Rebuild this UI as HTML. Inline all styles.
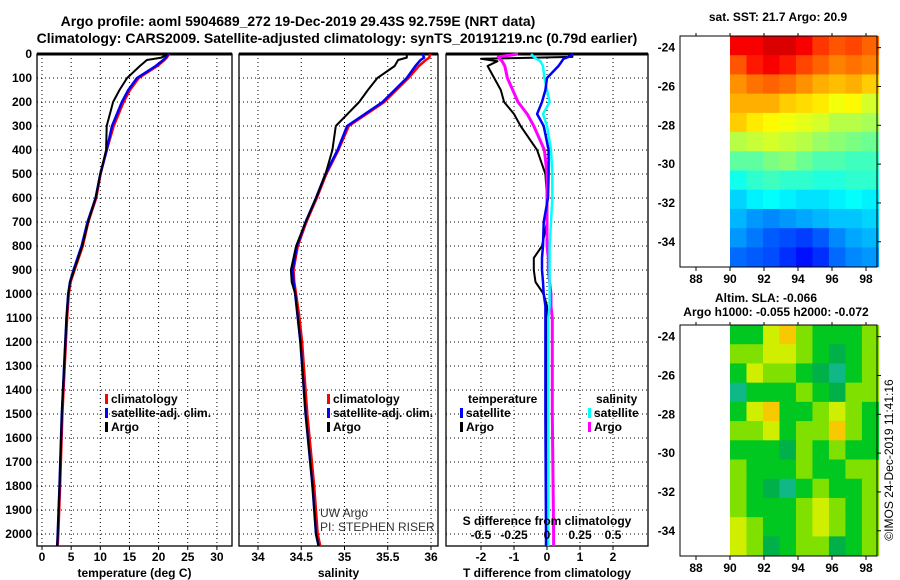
<!DOCTYPE html>
<html><head><meta charset="utf-8">
<style>
body{margin:0;background:#fff;}
svg{display:block;font-family:"Liberation Sans",Arial,sans-serif;}
.b{font-weight:bold;font-size:12px;}
.t{font-weight:bold;font-size:14px;}
</style></head>
<body>
<svg id="c" width="900" height="580" viewBox="0 0 900 580">
<text class="t" x="298" y="26" text-anchor="middle">Argo profile: aoml 5904689_272 19-Dec-2019 29.43S 92.759E (NRT data)</text>
<text class="t" x="337" y="43" text-anchor="middle">Climatology: CARS2009. Satellite-adjusted climatology: synTS_20191219.nc (0.79d earlier)</text>
<text class="b" x="778" y="21" text-anchor="middle">sat. SST: 21.7 Argo: 20.9</text>
<text class="b" x="766" y="302" text-anchor="middle">Altim. SLA: -0.066</text>
<text class="b" x="776" y="316" text-anchor="middle">Argo h1000: -0.055 h2000: -0.072</text>
<text x="893" y="460" font-size="12" text-anchor="middle" transform="rotate(-90 893 460)">©IMOS 24-Dec-2019 11:41:16</text>
<text x="320" y="517" font-size="12" fill="#333">UW Argo</text>
<text x="320" y="531" font-size="12" fill="#333">PI: STEPHEN RISER</text>
</svg>
<script>
// depth levels (m)
const depths=[0,15,25,50,100,150,200,300,400,500,600,700,800,900,950,1000,1100,1200,1500,1800,2000,2050];
const tempArgo=[21.5,20.5,18,16.8,14.6,13.3,12.2,11.1,11,10,9.2,7.9,6.9,5.5,4.8,4.5,4.2,4,3.4,3,2.7,2.6];
const tempSat=[21.7,21.2,20.8,19.5,16.3,14.8,13.7,12,11.1,10,9.2,7.8,6.8,5.4,4.8,4.5,4.2,4,3.4,3,2.7,2.6];
const tempClim=[21.8,21.4,21,19.8,16.6,15.1,14.0,12.3,11.1,10.05,9.3,7.95,7.0,5.6,4.9,4.6,4.3,4.1,3.5,3.1,2.8,2.7];
const salArgo=[35.72,35.72,35.62,35.58,35.38,35.27,35.17,34.9,34.86,34.78,34.67,34.55,34.44,34.38,34.39,34.43,34.46,34.49,34.55,34.63,34.67,34.7];
const salSat=[35.9,35.92,35.88,35.82,35.72,35.58,35.44,35.03,34.92,34.78,34.67,34.55,34.45,34.4,34.41,34.43,34.46,34.49,34.55,34.63,34.67,34.7];
const salClim=[35.99,35.98,35.94,35.86,35.74,35.6,35.46,35.05,34.93,34.79,34.68,34.56,34.46,34.41,34.42,34.44,34.48,34.51,34.57,34.65,34.69,34.72];
const dDepths=[0,12,20,30,50,100,150,200,250,300,400,500,600,700,800,850,900,950,1000,1050,1100,1500,2000,2050];
const tdiffArgo=[0.77,0.77,-2,-1.5,-1.8,-1.6,-1.4,-1.3,-1.0,-0.8,-0.3,-0.05,0,0,-0.15,-0.4,-0.4,-0.35,-0.1,0,0,0,0,0];
const tdiffSat=[0.8,0.65,0.5,0.45,0.35,0,-0.05,-0.15,-0.3,-0.1,0.05,0.05,0.03,-0.1,-0.12,-0.15,-0.15,-0.12,-0.1,-0.05,-0.05,-0.05,-0.03,-0.03];
const sdiffSat=[-0.12,-0.1,-0.08,-0.05,-0.03,-0.02,0,0.02,-0.03,0,0.03,0.04,0.04,0.03,0.02,0.02,0.02,0.02,0.02,0.02,0.01,0.01,0.01,0.01];
const sdiffArgo=[-0.22,-0.37,-0.36,-0.34,-0.32,-0.3,-0.26,-0.22,-0.15,-0.1,-0.02,0,0,0,0,0.01,0.01,0.02,0.03,0.03,0.04,0.04,0.05,0.05];
const depthTicks=[0,100,200,300,400,500,600,700,800,900,1000,1100,1200,1300,1400,1500,1600,1700,1800,1900,2000];
const tempTicks=[0,5,10,15,20,25,30];
const salTicks=[34,34.5,35,35.5,36];
const salTickLabels=["34","34.5","35","35.5","36"];
const tdTicks=[-2,-1,0,1,2];
const sdTicks=[-0.5,-0.25,0,0.25,0.5];
const sdTickLabels=["-0.5","-0.25","0","0.25","0.5"];
const lonTicks=[88,90,92,94,96,98];
const latTicks=[-24,-26,-28,-30,-32,-34];
// SST grid rows lat -23.4.. south (1 deg), cols lon 90..98.7
const sstGrid=[
[22,22,22.2,22.2,22,21.6,21.4,21.5,21.3],
[21.4,21.8,22,21.8,21.5,21.3,21.1,21.2,21.1],
[21,21.2,21.3,21.2,21.0,20.8,20.7,20.8,20.6],
[20.8,20.8,20.8,20.6,20.5,20.4,20.2,20.3,20.0],
[20.6,20.4,20.3,20.2,20.1,20.0,19.8,19.8,19.7],
[19.8,19.9,20.0,19.9,19.8,19.6,19.5,19.4,19.3],
[19.2,19.2,19.4,19.5,19.3,19.1,19.1,19.0,19.0],
[18.7,18.9,19.0,18.9,18.9,18.8,18.8,18.9,18.9],
[18.3,18.5,18.6,18.5,18.4,18.4,18.5,18.6,18.5],
[18.1,17.9,17.8,17.9,18.0,18.1,18.2,18.2,18.3],
[17.9,17.7,17.5,17.4,17.3,17.5,17.8,18.0,18.1],
[17.6,17.5,17.4,17.2,17.0,17.2,17.6,17.8,17.9]];
const slaGrid=[
[0,0,2,3,1,0,0,0,1],
[1,1,2,2,1,0,-1,0,1],
[0,2,1,1,0,-1,-2,0,1],
[-2,0,0,0,1,0,-1,1,1],
[0,2,3,0,0,1,2,1,0],
[1,1,2,0,1,1,3,1,0],
[0,0,0,-1,1,0,1,0,0],
[1,0,0,0,1,0,0,1,1],
[1,0,-1,-2,0,1,0,0,1],
[1,0,0,0,1,2,1,0,1],
[2,1,0,0,1,2,1,0,1],
[2,1,-1,0,1,1,-1,0,1]];

const svg=document.getElementById('c');
const NS='http://www.w3.org/2000/svg';
function mk(tag,attrs,parent){const e=document.createElementNS(NS,tag);for(const k in attrs)e.setAttribute(k,attrs[k]);(parent||svg).appendChild(e);return e;}
const yTop=54,yBot=546;
const yD=d=>yTop+d*0.24;
const panels=[
 {x0:37,x1:232,sx:v=>42+v*5.83,ticks:tempTicks,labels:tempTicks.map(String),title:"temperature (deg C)",name:"temperature"},
 {x0:239,x1:438,sx:v=>258+(v-34)*86.5,ticks:salTicks,labels:salTickLabels,title:"salinity",name:"salinity"},
 {x0:446,x1:648,sx:v=>547+v*33,ticks:tdTicks,labels:tdTicks.map(String),title:"T difference from climatology",name:"difference"}];
const sS=v=>547+v*132;
panels.forEach((p,i)=>{
 const g=mk('g',{});
 
 
 depthTicks.forEach(d=>{const l=mk('line',{x1:p.x0,x2:p.x1,y1:yD(d),y2:yD(d),stroke:'#000','stroke-width':1,'stroke-dasharray':'1 3'},g);
  });
 p.ticks.forEach((v,j)=>{const x=p.sx(v);
  const l=mk('line',{x1:x,x2:x,y1:yTop,y2:yBot,stroke:'#000','stroke-dasharray':'1 3'},g);
  
  mk('line',{x1:x,x2:x,y1:yBot,y2:yBot+4,stroke:'#000'},g);
  const t=mk('text',{x:x,y:561,'text-anchor':'middle',class:'b'},g);t.textContent=p.labels[j];
  });
 const r=mk('rect',{x:p.x0,y:yTop,width:p.x1-p.x0,height:yBot-yTop,fill:'none',stroke:'#000','stroke-width':1.3},g);
 
 mk('line',{x1:p.x0,x2:p.x1,y1:yTop,y2:yTop,stroke:'#000','stroke-width':3},g);
 const tt=mk('text',{x:(p.x0+p.x1)/2,y:577,'text-anchor':'middle',class:'b'},g);tt.textContent=p.title;
 
});
depthTicks.forEach(d=>{const t=mk('text',{x:32,y:yD(d)+4,'text-anchor':'end',class:'b'});t.textContent=d;
 });
function line(vals,dep,sx,color,name,w){
 const pts=vals.map((v,i)=>sx(v).toFixed(1)+','+yD(dep[i]).toFixed(1)).join(' ');
 const e=mk('polyline',{points:pts,fill:'none',stroke:color,'stroke-width':w||2.5,'stroke-linejoin':'round'});
 }
const P=panels;
line(tempClim,depths,P[0].sx,'#f00','temp-climatology-line');
line(tempSat,depths,P[0].sx,'#00f','temp-satellite-line');
line(tempArgo,depths,P[0].sx,'#000','temp-argo-line',2);
line(salClim,depths,P[1].sx,'#f00','sal-climatology-line');
line(salSat,depths,P[1].sx,'#00f','sal-satellite-line');
line(salArgo,depths,P[1].sx,'#000','sal-argo-line',2);
line(tdiffArgo,dDepths,P[2].sx,'#000','tdiff-argo-line',2);
line(sdiffArgo,dDepths,sS,'#f0f','sdiff-argo-line',3);
line(sdiffSat,dDepths,sS,'#0ff','sdiff-satellite-line',2.5);
line(tdiffSat,dDepths,P[2].sx,'#00f','tdiff-satellite-line',2.5);
const sdt=mk('text',{x:547,y:525,'text-anchor':'middle',class:'b'});sdt.textContent='S difference from climatology';

sdTicks.forEach((v,j)=>{const t=mk('text',{x:sS(v),y:539,'text-anchor':'middle',class:'b'});t.textContent=sdTickLabels[j];
 });
function leg(x,y,color,label){const g=mk('g',{});
 
 mk('rect',{x:x,y:y-9,width:3,height:10,fill:color},g);
 const t=mk('text',{x:x+6,y:y,class:'b'},g);t.textContent=label;}
[[P[0],105],[P[1],327]].forEach(([p,x])=>{leg(x,403,'#f00','climatology');leg(x,417,'#00f','satellite-adj. clim.');leg(x,431,'#000','Argo');});
const lt=mk('text',{x:468,y:403,class:'b'});lt.textContent='temperature';
const ls=mk('text',{x:596,y:403,class:'b'});ls.textContent='salinity';
leg(460,417,'#00f','satellite');leg(460,431,'#000','Argo');
leg(588,417,'#0ff','satellite');leg(588,431,'#f0f','Argo');
function jet(t){t=Math.max(0,Math.min(1,t));
 const r=Math.max(0,Math.min(1,1.5-Math.abs(4*t-3))),g=Math.max(0,Math.min(1,1.5-Math.abs(4*t-2))),b=Math.max(0,Math.min(1,1.5-Math.abs(4*t-1)));
 return `rgb(${r*255|0},${g*255|0},${b*255|0})`;}
const slaCols={'-2':'#10b888','-1':'#00b048','0':'#00c820','1':'#80e000','2':'#d0ee00','3':'#f8c800'};
function map(top,bot,latTop,grid,colorFn,name){
 const lx=lon=>730+(lon-90)*17;
 const ly=lat=>top+(latTop-lat)*((bot-top)/11.9);
 const g=mk('g',{});
 grid.forEach((row,i)=>row.forEach((v,j)=>{
  const x=lx(90+j*0.97),y=ly(latTop-i*0.99);
  const c=mk('rect',{x:x,y:y,width:17.2,height:(bot-top)/12+0.5,fill:colorFn(v)},g);
  }));
 const fr=mk('rect',{x:680,y:top,width:197,height:bot-top,fill:'none',stroke:'#000'},g);
 
 lonTicks.forEach(l=>{const x=lx(l);mk('line',{x1:x,x2:x,y1:bot,y2:bot+4,stroke:'#000'},g);mk('line',{x1:x,x2:x,y1:top,y2:top-3,stroke:'#000'},g);
  const t=mk('text',{x:x,y:bot+16,'text-anchor':'middle',class:'b'},g);t.textContent=l;
  });
 latTicks.forEach(l=>{const y=ly(l);mk('line',{x1:877,x2:881,y1:y,y2:y,stroke:'#000'},g);
  const t=mk('text',{x:675,y:y+4,'text-anchor':'end',class:'b'},g);t.textContent=l;
  });
}
map(36,267,-23.4,sstGrid,v=>jet(0.2+(v-17.4)*0.148),'sst-map');
map(325,556,-23.4,slaGrid,v=>slaCols[String(v)],'sla-map');
</script>
</body></html>
